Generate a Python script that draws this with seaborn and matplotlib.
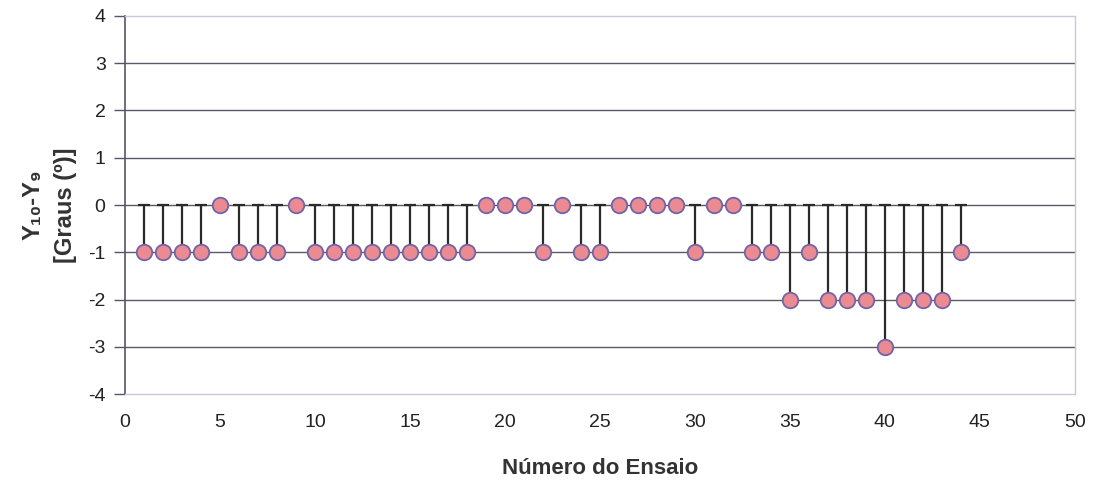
import numpy as np
import pandas as pd
import matplotlib
matplotlib.use("Agg")
import matplotlib.pyplot as plt
import seaborn as sns

# Difference Y10 - Y9 for each trial
ensaio = list(range(1, 45))
diferenca = [-1, -1, -1, -1, 0, -1, -1, -1, 0, -1,
             -1, -1, -1, -1, -1, -1, -1, -1, 0, 0,
             0, -1, 0, -1, -1, 0, 0, 0, 0, -1,
             0, 0, -1, -1, -2, -1, -2, -2, -2, -3,
             -2, -2, -2, -1]
x_ticks = [0, 5, 10, 15, 20, 25, 30, 35, 40, 45, 50]
y_ticks = [-4, -3, -2, -1, 0, 1, 2, 3, 4]

df = pd.DataFrame({"Ensaio": ensaio, "Diferenca": diferenca})

sns.set_style("white")
plt.rcParams["font.family"] = ["Liberation Sans", "DejaVu Sans"]
plt.rcParams["axes.unicode_minus"] = False

fig = plt.figure(figsize=(10.93, 4.83), dpi=100)
ax = fig.add_axes([0.1144, 0.184, 0.869, 0.783])

# horizontal gridlines
for yv in y_ticks[1:-1]:
    ax.axhline(yv, color="#5a5a66", lw=1.0, zorder=1)

# stems from zero down to each value, capped at zero
neg = df[df["Diferenca"] != 0]
ax.vlines(neg["Ensaio"], 0, neg["Diferenca"], color="#2a2a2a", lw=1.6, zorder=2)
ax.plot(neg["Ensaio"], np.zeros(len(neg)), linestyle="none", marker="_",
        markersize=9, markeredgewidth=1.6, color="#2a2a2a", zorder=2)

sns.scatterplot(data=df, x="Ensaio", y="Diferenca", ax=ax, s=125,
                color="#eb8a90", edgecolor="#6f64a8", linewidth=1.3, zorder=3)

ax.set_xlim(0, 50)
ax.set_ylim(-4, 4)
ax.set_xticks(x_ticks)
ax.set_yticks(y_ticks)
ax.tick_params(axis="both", labelsize=14, colors="#222222")
ax.tick_params(axis="y", length=8, width=1, direction="out", color="#555566",
               left=True, pad=6)
ax.tick_params(axis="x", length=0, pad=14)

for side in ["top", "right", "bottom"]:
    ax.spines[side].set_color("#c8c8e0")
    ax.spines[side].set_linewidth(1.0)
ax.spines["left"].set_color("#555566")
ax.spines["left"].set_linewidth(1.2)

ax.set_xlabel("Número do Ensaio", fontsize=16, fontweight="bold", color="#333333", labelpad=20)
ax.set_ylabel("Y₁₀-Y₉\n[Graus (º)]", fontsize=17, fontweight="bold", color="#333333",
              labelpad=8, linespacing=1.55)

fig.savefig("out.png", dpi=100, facecolor="white")
